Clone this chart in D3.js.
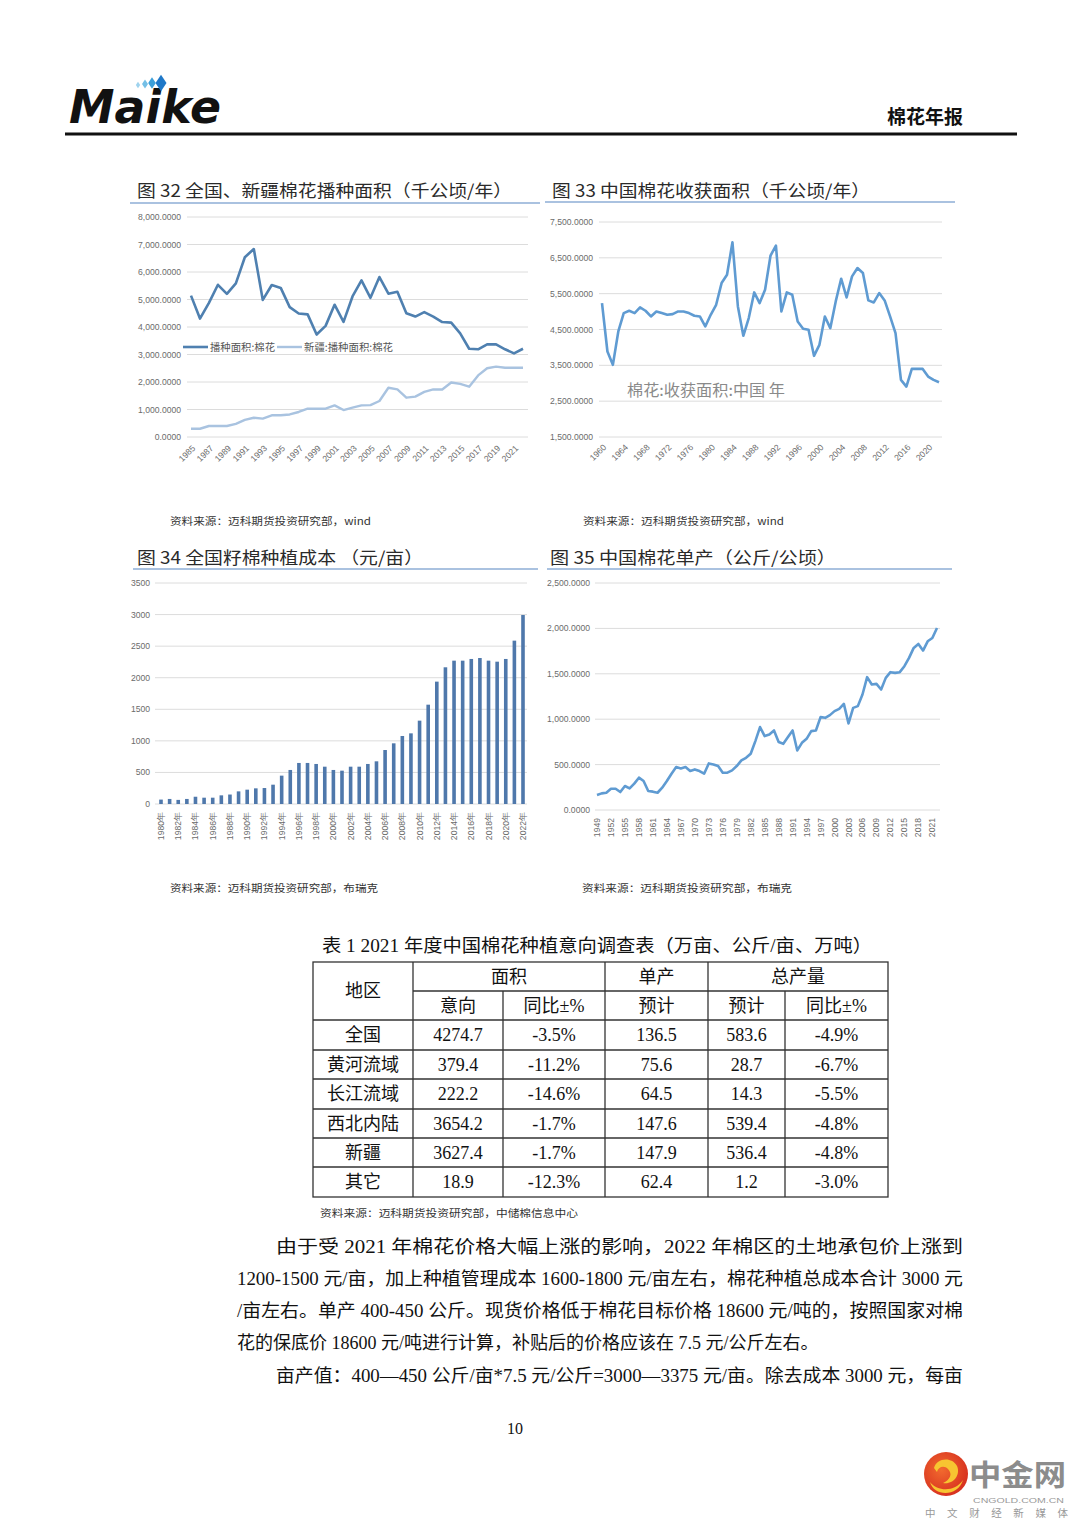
<!DOCTYPE html>
<html><head><meta charset="utf-8">
<script src="https://cdn.jsdelivr.net/npm/d3@7"></script>
<style>
html,body{margin:0;padding:0;background:#fff;}
svg{display:block;}
</style></head>
<body>
<script>
// ---------- DATA ----------
const years32 = [1985,1986,1987,1988,1989,1990,1991,1992,1993,1994,1995,1996,1997,1998,1999,2000,2001,2002,2003,2004,2005,2006,2007,2008,2009,2010,2011,2012,2013,2014,2015,2016,2017,2018,2019,2020,2021,2022];
const national32 = [5140,4306,4880,5535,5203,5588,6538,6835,4985,5528,5422,4722,4491,4459,3726,4041,4810,4184,5111,5693,5062,5816,5210,5280,4500,4380,4540,4380,4180,4160,3770,3210,3190,3370,3370,3190,3040,3210];
const xinjiang32 = [300,300,400,400,400,480,620,700,670,790,790,820,910,1030,1030,1030,1150,980,1070,1150,1160,1310,1790,1730,1430,1470,1640,1730,1730,1980,1930,1830,2240,2500,2560,2520,2520,2520];
const yTicks32 = [0,1000,2000,3000,4000,5000,6000,7000,8000];
const xLabels32 = [1985,1987,1989,1991,1993,1995,1997,1999,2001,2003,2005,2007,2009,2011,2013,2015,2017,2019,2021];
const legend32 = ["播种面积:棉花","新疆:播种面积:棉花"];

const years33 = [1960,1961,1962,1963,1964,1965,1966,1967,1968,1969,1970,1971,1972,1973,1974,1975,1976,1977,1978,1979,1980,1981,1982,1983,1984,1985,1986,1987,1988,1989,1990,1991,1992,1993,1994,1995,1996,1997,1998,1999,2000,2001,2002,2003,2004,2005,2006,2007,2008,2009,2010,2011,2012,2013,2014,2015,2016,2017,2018,2019,2020,2021,2022];
const harvest33 = [5237,3886,3513,4445,4958,5023,4958,5116,5023,4864,5004,4958,4911,4930,5004,5004,4958,4883,4864,4585,4911,5190,5796,6029,6933,5144,4324,4818,5535,5237,5610,6560,6840,5004,5535,5470,4725,4520,4492,3765,4072,4864,4538,5284,5917,5396,5983,6216,6076,5312,5256,5517,5312,4864,4399,3094,2907,3401,3401,3401,3187,3094,3028];
const yTicks33 = [1500,2500,3500,4500,5500,6500,7500];
const xLabels33 = [1960,1964,1968,1972,1976,1980,1984,1988,1992,1996,2000,2004,2008,2012,2016,2020];
const legend33 = "棉花:收获面积:中国 年";

const years34 = ["1980年","1981年","1982年","1983年","1984年","1985年","1986年","1987年","1988年","1989年","1990年","1991年","1992年","1993年","1994年","1995年","1996年","1997年","1998年","1999年","2000年","2001年","2002年","2003年","2004年","2005年","2006年","2007年","2008年","2009年","2010年","2011年","2012年","2013年","2014年","2015年","2016年","2017年","2018年","2019年","2020年","2021年","2022年"];
const cost34 = [70,80,65,80,115,100,100,137,150,200,227,248,253,306,449,539,650,650,634,591,539,528,591,591,634,676,855,961,1077,1119,1320,1573,1938,2165,2270,2270,2297,2312,2270,2254,2297,2587,2993];
const yTicks34 = [0,500,1000,1500,2000,2500,3000,3500];
const xLabels34 = ["1980年","1982年","1984年","1986年","1988年","1990年","1992年","1994年","1996年","1998年","2000年","2002年","2004年","2006年","2008年","2010年","2012年","2014年","2016年","2018年","2020年","2022年"];

const years35 = [1949,1950,1951,1952,1953,1954,1955,1956,1957,1958,1959,1960,1961,1962,1963,1964,1965,1966,1967,1968,1969,1970,1971,1972,1973,1974,1975,1976,1977,1978,1979,1980,1981,1982,1983,1984,1985,1986,1987,1988,1989,1990,1991,1992,1993,1994,1995,1996,1997,1998,1999,2000,2001,2002,2003,2004,2005,2006,2007,2008,2009,2010,2011,2012,2013,2014,2015,2016,2017,2018,2019,2020,2021,2022];
const yield35 = [165,183,190,234,234,198,264,238,290,356,319,209,202,190,246,319,400,473,458,473,429,447,429,400,513,502,484,411,411,436,484,546,575,620,759,913,814,832,876,748,729,803,876,656,740,784,869,876,1023,1015,1045,1089,1114,1169,953,1125,1144,1272,1463,1382,1389,1327,1455,1518,1510,1518,1584,1675,1785,1829,1756,1858,1895,2005];
const yTicks35 = [0,500,1000,1500,2000,2500];
const xLabels35 = [1949,1952,1955,1958,1961,1964,1967,1970,1973,1976,1979,1982,1985,1988,1991,1994,1997,2000,2003,2006,2009,2012,2015,2018,2021];

const tableHead1 = ["地区","面积","单产","总产量"];
const tableHead2 = ["意向","同比±%","预计","预计","同比±%"];
const tableRegions = ["全国","黄河流域","长江流域","西北内陆","新疆","其它"];
const tableArea = ["4274.7","379.4","222.2","3654.2","3627.4","18.9"];
const tableAreaYoY = ["-3.5%","-11.2%","-14.6%","-1.7%","-1.7%","-12.3%"];
const tableYield = ["136.5","75.6","64.5","147.6","147.9","62.4"];
const tableOutput = ["583.6","28.7","14.3","539.4","536.4","1.2"];
const tableOutputYoY = ["-4.9%","-6.7%","-5.5%","-4.8%","-4.8%","-3.0%"];

const paragraph = [
 "由于受 2021 年棉花价格大幅上涨的影响，2022 年棉区的土地承包价上涨到",
 "1200-1500 元/亩，加上种植管理成本 1600-1800 元/亩左右，棉花种植总成本合计 3000 元",
 "/亩左右。单产 400-450 公斤。现货价格低于棉花目标价格 18600 元/吨的，按照国家对棉",
 "花的保底价 18600 元/吨进行计算，补贴后的价格应该在 7.5 元/公斤左右。",
 "亩产值：400—450 公斤/亩*7.5 元/公斤=3000—3375 元/亩。除去成本 3000 元，每亩"
];

// ---------- DRAW ----------
const W = 1080, H = 1527;
const svg = d3.select("body").append("svg").attr("width", W).attr("height", H);
svg.append("rect").attr("width", W).attr("height", H).attr("fill", "#fff");

const CJK = "'Noto Sans CJK SC', sans-serif";
const SERIF = "'Liberation Serif', 'Noto Sans CJK SC', serif";
const NUM = "'Liberation Sans', 'DejaVu Sans', sans-serif";

// Header
const logo = svg.append("g");
logo.append("text").attr("x", 69).attr("y", 123)
  .attr("font-family", "'DejaVu Sans', sans-serif").attr("font-weight", "bold")
  .attr("font-style", "italic").attr("font-size", 47).attr("fill", "#111")
  .attr("textLength", 152).attr("lengthAdjust", "spacingAndGlyphs").text("Maike");
const icons = [[138,85,2.2,"#9fd3ee"],[145,84,3,"#74bfe6"],[152,83,3.8,"#3d9fd8"],[161,83,5.5,"#1f78c8"]];
icons.forEach(([cx,cy,r,c])=>{
  logo.append("path").attr("d", `M${cx} ${cy-r*1.5} L${cx+r} ${cy} L${cx} ${cy+r*1.5} L${cx-r} ${cy} Z`).attr("fill", c);
});
svg.append("text").attr("x", 963).attr("y", 124).attr("text-anchor", "end")
  .attr("font-family", CJK).attr("font-weight", 700).attr("font-size", 19).attr("fill", "#111").text("棉花年报");
svg.append("line").attr("x1", 65).attr("x2", 1017).attr("y1", 134).attr("y2", 134)
  .attr("stroke", "#111").attr("stroke-width", 3);

// titles & underlines
function title(txt, x, y, len, ux1, ux2, uy) {
  svg.append("text").attr("x", x).attr("y", y).attr("font-family", CJK).attr("font-size", 17)
    .attr("fill", "#2a2a2a").attr("textLength", len).attr("lengthAdjust", "spacingAndGlyphs").text(txt);
  svg.append("line").attr("x1", ux1).attr("x2", ux2).attr("y1", uy).attr("y2", uy)
    .attr("stroke", "#8eaed6").attr("stroke-width", 1.5);
}
title("图 32 全国、新疆棉花播种面积（千公顷/年）", 137, 197, 375, 130, 540, 203);
title("图 33 中国棉花收获面积（千公顷/年）", 552, 197, 318, 545, 955, 202);
title("图 34 全国籽棉种植成本 （元/亩）", 137, 564, 286, 133, 538, 569);
title("图 35  中国棉花单产（公斤/公顷）", 550, 564, 286, 547, 952, 569);

function source(txt, x, y, len) {
  svg.append("text").attr("x", x).attr("y", y).attr("font-family", CJK).attr("font-size", 10)
    .attr("fill", "#333").attr("textLength", len).attr("lengthAdjust", "spacingAndGlyphs").text(txt);
}
source("资料来源：迈科期货投资研究部，wind", 170, 525, 201);
source("资料来源：迈科期货投资研究部，wind", 583, 525, 201);
source("资料来源：迈科期货投资研究部，布瑞克", 170, 892, 208);
source("资料来源：迈科期货投资研究部，布瑞克", 582, 892, 210);
source("资料来源：迈科期货投资研究部，中储棉信息中心", 320, 1217, 258);

const fmt4 = v => d3.format(",.4f")(v);

function grid(y, ticks, x1, x2, labelX, fmt) {
  const g = svg.append("g");
  ticks.forEach(t => {
    g.append("line").attr("x1", x1).attr("x2", x2).attr("y1", y(t)).attr("y2", y(t))
      .attr("stroke", "#dcdcdc").attr("stroke-width", 1);
    g.append("text").attr("x", labelX).attr("y", y(t)).attr("dy", "0.35em").attr("text-anchor", "end")
      .attr("font-family", NUM).attr("font-size", 8.6).attr("fill", "#6b6b6b").text(fmt(t));
  });
}
function xLabelsRot(x, labels, y0, angle, dx) {
  labels.forEach(l => {
    const px = x(l) + dx;
    svg.append("text").attr("transform", `translate(${px},${y0}) rotate(${angle})`)
      .attr("text-anchor", "end").attr("dy", angle === -90 ? "0.35em" : "0.3em")
      .attr("font-family", NUM).attr("font-size", 8.6).attr("fill", "#6b6b6b").text(l);
  });
}

// Chart 32
{
  const x = d3.scalePoint().domain(years32).range([191, 523]);
  const y = d3.scaleLinear().domain([0, 8000]).range([437, 217]);
  grid(y, yTicks32, 187, 528, 181, fmt4);
  const line = d3.line().x((d, i) => x(years32[i])).y(d => y(d));
  svg.append("path").datum(xinjiang32).attr("d", line).attr("fill", "none")
    .attr("stroke", "#a9c3e0").attr("stroke-width", 2.4).attr("stroke-linejoin", "round");
  svg.append("path").datum(national32).attr("d", line).attr("fill", "none")
    .attr("stroke", "#4f80b0").attr("stroke-width", 2.6).attr("stroke-linejoin", "round");
  xLabelsRot(x, xLabels32, 447, -45, 3);
  // legend
  const ly = 347;
  svg.append("line").attr("x1", 183).attr("x2", 208).attr("y1", ly).attr("y2", ly).attr("stroke", "#4f80b0").attr("stroke-width", 2.6);
  svg.append("text").attr("x", 210).attr("y", ly).attr("dy", "0.36em").attr("font-family", CJK).attr("font-size", 10)
    .attr("fill", "#555").attr("textLength", 65).attr("lengthAdjust", "spacingAndGlyphs").text(legend32[0]);
  svg.append("line").attr("x1", 277).attr("x2", 302).attr("y1", ly).attr("y2", ly).attr("stroke", "#a9c3e0").attr("stroke-width", 2.4);
  svg.append("text").attr("x", 304).attr("y", ly).attr("dy", "0.36em").attr("font-family", CJK).attr("font-size", 10)
    .attr("fill", "#555").attr("textLength", 89).attr("lengthAdjust", "spacingAndGlyphs").text(legend32[1]);
}

// Chart 33
{
  const x = d3.scalePoint().domain(years33).range([602, 939]);
  const y = d3.scaleLinear().domain([1500, 7500]).range([437, 222]);
  grid(y, yTicks33, 599, 942, 593, fmt4);
  const line = d3.line().x((d, i) => x(years33[i])).y(d => y(d));
  svg.append("path").datum(harvest33).attr("d", line).attr("fill", "none")
    .attr("stroke", "#5f9bd2").attr("stroke-width", 2.6).attr("stroke-linejoin", "round");
  xLabelsRot(x, xLabels33, 446, -45, 3);
  svg.append("text").attr("x", 627).attr("y", 396).attr("font-family", CJK).attr("font-size", 15.5)
    .attr("fill", "#8a8a8a").attr("textLength", 158).attr("lengthAdjust", "spacingAndGlyphs").text(legend33);
}

// Chart 34
{
  const x = d3.scalePoint().domain(years34).range([161, 523]);
  const y = d3.scaleLinear().domain([0, 3500]).range([804, 583]);
  grid(y, yTicks34, 155, 527, 150, d3.format("d"));
  svg.append("g").selectAll("rect").data(cost34).join("rect")
    .attr("x", (d, i) => x(years34[i]) - 1.8).attr("width", 3.6)
    .attr("y", d => y(d)).attr("height", d => y(0) - y(d)).attr("fill", "#4f78ab");
  xLabelsRot(x, xLabels34, 812, -90, 0);
}

// Chart 35
{
  const x = d3.scalePoint().domain(years35).range([597, 937]);
  const y = d3.scaleLinear().domain([0, 2500]).range([810, 583]);
  grid(y, yTicks35, 595, 940, 590, fmt4);
  const line = d3.line().x((d, i) => x(years35[i])).y(d => y(d));
  svg.append("path").datum(yield35).attr("d", line).attr("fill", "none")
    .attr("stroke", "#5f9bd2").attr("stroke-width", 2.6).attr("stroke-linejoin", "round");
  xLabelsRot(x, xLabels35, 818, -90, 0);
}

// Table
{
  svg.append("text").attr("x", 322).attr("y", 952).attr("font-family", SERIF).attr("font-size", 18)
    .attr("fill", "#111").attr("textLength", 550).attr("lengthAdjust", "spacingAndGlyphs")
    .text("表 1   2021 年度中国棉花种植意向调查表（万亩、公斤/亩、万吨）");
  const cols = [313, 413, 503, 605, 708, 785, 888];
  const rows = [962, 991, 1020, 1050, 1079, 1109, 1138, 1167, 1197];
  const g = svg.append("g").attr("stroke", "#333").attr("stroke-width", 1.3);
  g.append("rect").attr("x", cols[0]).attr("y", rows[0]).attr("width", cols[6]-cols[0]).attr("height", rows[8]-rows[0]).attr("fill", "none");
  g.append("line").attr("x1", cols[1]).attr("x2", cols[6]).attr("y1", rows[1]).attr("y2", rows[1]);
  for (let r = 2; r < 8; r++) g.append("line").attr("x1", cols[0]).attr("x2", cols[6]).attr("y1", rows[r]).attr("y2", rows[r]);
  [1, 3, 4].forEach(c => g.append("line").attr("x1", cols[c]).attr("x2", cols[c]).attr("y1", rows[0]).attr("y2", rows[8]));
  [2, 5].forEach(c => g.append("line").attr("x1", cols[c]).attr("x2", cols[c]).attr("y1", rows[1]).attr("y2", rows[8]));
  const cell = (txt, cx, cy) => svg.append("text").attr("x", cx).attr("y", cy).attr("dy", "0.36em")
    .attr("text-anchor", "middle").attr("font-family", SERIF).attr("font-size", 18).attr("fill", "#111").text(txt);
  const mid = (a, b) => (a + b) / 2;
  cell(tableHead1[0], mid(cols[0], cols[1]), mid(rows[0], rows[2]));
  cell(tableHead1[1], mid(cols[1], cols[3]), mid(rows[0], rows[1]));
  cell(tableHead1[2], mid(cols[3], cols[4]), mid(rows[0], rows[1]));
  cell(tableHead1[3], mid(cols[4], cols[6]), mid(rows[0], rows[1]));
  [[1,2],[2,3],[3,4],[4,5],[5,6]].forEach(([a,b], i) => cell(tableHead2[i], mid(cols[a], cols[b]), mid(rows[1], rows[2])));
  const colsData = [tableRegions, tableArea, tableAreaYoY, tableYield, tableOutput, tableOutputYoY];
  colsData.forEach((arr, c) => arr.forEach((v, r) => cell(v, mid(cols[c], cols[c+1]), mid(rows[r+2], rows[r+3]))));
}

// Paragraph
{
  const specs = [[276, 1253, 687], [237, 1285, 726], [237, 1317, 726], [237, 1349, null], [276, 1382, 687]];
  paragraph.forEach((t, i) => {
    const [x, y, len] = specs[i];
    const tx = svg.append("text").attr("x", x).attr("y", y).attr("font-family", SERIF).attr("font-size", 18)
      .attr("fill", "#111").text(t);
    if (len) tx.attr("textLength", len).attr("lengthAdjust", "spacingAndGlyphs");
  });
  svg.append("text").attr("x", 515).attr("y", 1434).attr("text-anchor", "middle").attr("font-family", SERIF)
    .attr("font-size", 16).attr("fill", "#111").text("10");
}

// Watermark
{
  const g = svg.append("g");
  const grad = svg.append("defs").append("radialGradient").attr("id", "wg").attr("cx", "40%").attr("cy", "40%").attr("r", "70%");
  grad.append("stop").attr("offset", "0%").attr("stop-color", "#f26a2e");
  grad.append("stop").attr("offset", "100%").attr("stop-color", "#d42a1e");
  g.append("circle").attr("cx", 946).attr("cy", 1474).attr("r", 22).attr("fill", "url(#wg)");
  g.append("path").attr("d", "M934 1468 C936 1458 952 1456 957 1466 C961 1475 953 1485 943 1483 C950 1480 953 1474 948 1469 C944 1465 938 1467 937 1472 Z")
    .attr("fill", "#f7c531");
  g.append("path").attr("d", "M930 1482 C938 1492 955 1492 963 1480 C958 1497 934 1497 930 1482 Z").attr("fill", "#f7c531");
  g.append("text").attr("x", 969).attr("y", 1486).attr("font-family", CJK).attr("font-weight", 700)
    .attr("font-size", 29).attr("fill", "#8c8c8c").attr("textLength", 97).attr("lengthAdjust", "spacingAndGlyphs").text("中金网");
  g.append("text").attr("x", 973).attr("y", 1503).attr("font-family", NUM).attr("font-size", 8)
    .attr("fill", "#999").attr("textLength", 91).attr("lengthAdjust", "spacingAndGlyphs").text("CNGOLD.COM.CN");
  g.append("text").attr("x", 925).attr("y", 1517).attr("font-family", CJK).attr("font-size", 10.5)
    .attr("fill", "#999").attr("textLength", 143).attr("lengthAdjust", "spacing").text("中文财经新媒体");
}
</script>
</body></html>
